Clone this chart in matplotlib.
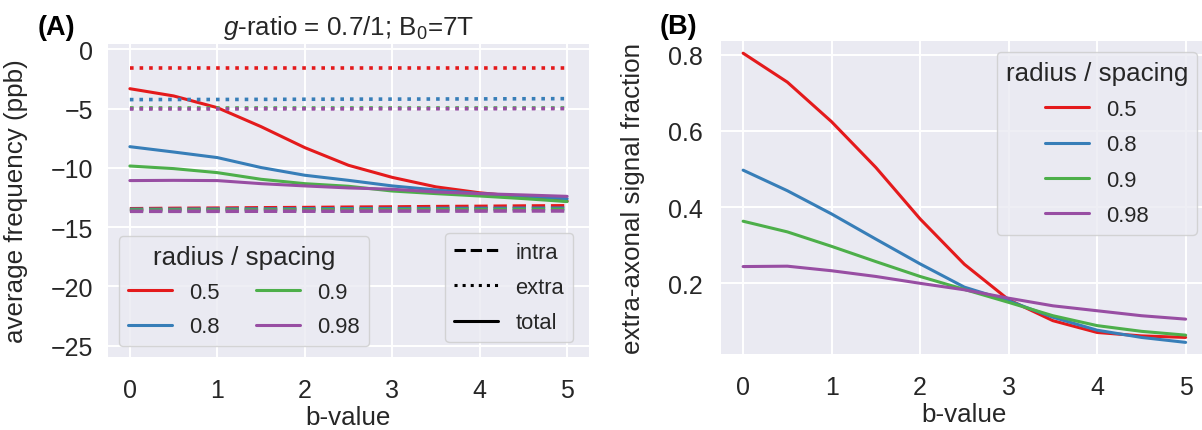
import matplotlib
matplotlib.use("Agg")
import matplotlib.pyplot as plt
from matplotlib.lines import Line2D

b_values = [0, 0.5, 1, 1.5, 2, 2.5, 3, 3.5, 4, 4.5, 5]
radius_spacing = ["0.5", "0.8", "0.9", "0.98"]
colors = ["#e41a1c", "#377eb8", "#4daf4a", "#984ea3"]

# average frequency (ppb), one row per radius/spacing
freq_intra = [
    [-13.45, -13.42, -13.40, -13.37, -13.35, -13.32, -13.30, -13.27, -13.25, -13.22, -13.20],
    [-13.50, -13.50, -13.48, -13.47, -13.46, -13.45, -13.44, -13.43, -13.42, -13.41, -13.40],
    [-13.56, -13.56, -13.55, -13.55, -13.54, -13.53, -13.53, -13.52, -13.52, -13.51, -13.50],
    [-13.66, -13.66, -13.66, -13.65, -13.65, -13.65, -13.64, -13.64, -13.64, -13.63, -13.63],
]
freq_extra = [
    [-1.60, -1.60, -1.60, -1.60, -1.60, -1.60, -1.60, -1.60, -1.60, -1.60, -1.60],
    [-4.24, -4.23, -4.23, -4.22, -4.21, -4.20, -4.20, -4.19, -4.18, -4.17, -4.16],
    [-4.96, -4.96, -4.96, -4.96, -4.96, -4.96, -4.96, -4.96, -4.96, -4.96, -4.96],
    [-5.03, -5.03, -5.03, -5.02, -5.02, -5.02, -5.01, -5.01, -5.01, -5.00, -5.00],
]
freq_total = [
    [-3.32, -3.93, -4.92, -6.52, -8.29, -9.78, -10.80, -11.60, -12.10, -12.45, -12.80],
    [-8.21, -8.66, -9.13, -9.97, -10.62, -11.05, -11.52, -11.86, -12.17, -12.37, -12.60],
    [-9.84, -10.06, -10.40, -10.96, -11.33, -11.55, -11.95, -12.17, -12.37, -12.59, -12.84],
    [-11.07, -11.05, -11.07, -11.33, -11.52, -11.69, -11.80, -12.03, -12.17, -12.28, -12.40],
]

# extra-axonal signal fraction
extra_fraction = [
    [0.804, 0.728, 0.624, 0.504, 0.369, 0.250, 0.157, 0.102, 0.071, 0.062, 0.058],
    [0.497, 0.443, 0.382, 0.316, 0.251, 0.190, 0.154, 0.111, 0.077, 0.058, 0.045],
    [0.363, 0.335, 0.297, 0.257, 0.218, 0.184, 0.150, 0.115, 0.089, 0.074, 0.064],
    [0.244, 0.245, 0.233, 0.218, 0.200, 0.183, 0.161, 0.141, 0.128, 0.115, 0.106],
]

plt.style.use("seaborn-v0_8-darkgrid")
plt.rcParams["font.family"] = ["Liberation Sans", "DejaVu Sans"]
plt.rcParams["mathtext.fontset"] = "custom"
plt.rcParams["mathtext.rm"] = "Liberation Sans"
plt.rcParams["mathtext.it"] = "Liberation Sans:italic"
plt.rcParams["text.color"] = ".15"
plt.rcParams["axes.labelcolor"] = ".15"
plt.rcParams["xtick.color"] = ".15"
plt.rcParams["ytick.color"] = ".15"
plt.rcParams["grid.linewidth"] = 1.4
plt.rcParams["legend.frameon"] = True
plt.rcParams["legend.framealpha"] = 0.8
plt.rcParams["legend.edgecolor"] = "0.8"
plt.rcParams["legend.facecolor"] = "#eaeaf2"

LABEL = 18.7
TICK = 18
LEG = 15.8

W, H = 1202, 431
fig = plt.figure(figsize=(W / 100, H / 100), dpi=100)
ax_a = fig.add_axes([108 / W, 1 - 358 / H, 481 / W, 313 / H])
ax_b = fig.add_axes([721 / W, 1 - 355 / H, 486.75 / W, 313 / H])

# (A) mean frequency shift per compartment
for i, c in enumerate(colors):
    ax_a.plot(b_values, freq_intra[i], color=c, ls="--", lw=2.6)
    ax_a.plot(b_values, freq_extra[i], color=c, ls=":", lw=2.6)
    ax_a.plot(b_values, freq_total[i], color=c, ls="-", lw=2.2)

ax_a.set_xlim(-0.25, 5.25)
ax_a.set_ylim(-25.95, 0.45)
ax_a.set_yticks([0, -5, -10, -15, -20, -25])
ax_a.set_xticks(range(6))
ax_a.tick_params(axis="x", length=0, pad=15, labelsize=TICK)
ax_a.tick_params(axis="y", length=0, pad=10.5, labelsize=TICK)
ax_a.set_xlabel("b-value", fontsize=LABEL, labelpad=2)
ax_a.set_ylabel("average frequency (ppb)", fontsize=LABEL)
ax_a.yaxis.set_label_coords(-0.166, 0.5)
ax_a.set_title(r"$g$-ratio = 0.7/1; B$_0$=7T", fontsize=LABEL, pad=7)

color_handles = [Line2D([], [], color=c, lw=2.2) for c in colors]
leg1 = ax_a.legend(color_handles, radius_spacing, title="radius / spacing",
                   loc="lower left", ncol=2, fontsize=LEG,
                   title_fontsize=LABEL, columnspacing=1.65, labelspacing=0.6)
ax_a.add_artist(leg1)

style_handles = [Line2D([], [], color="k", ls=s, lw=2.2) for s in ["--", ":", "-"]]
ax_a.legend(style_handles, ["intra", "extra", "total"], loc="lower right",
            bbox_to_anchor=(0.967, 0.048), borderaxespad=0, fontsize=LEG,
            labelspacing=0.65)

# (B) extra-axonal signal fraction
for i, c in enumerate(colors):
    ax_b.plot(b_values, extra_fraction[i], color=c, lw=2.2, label=radius_spacing[i])

ax_b.set_xlim(-0.25, 5.25)
ax_b.set_ylim(0.0145, 0.836)
ax_b.set_yticks([0.2, 0.4, 0.6, 0.8])
ax_b.set_xticks(range(6))
ax_b.tick_params(axis="x", length=0, pad=15, labelsize=TICK)
ax_b.tick_params(axis="y", length=0, pad=13, labelsize=TICK)
ax_b.set_xlabel("b-value", fontsize=LABEL, labelpad=2)
ax_b.set_ylabel("extra-axonal signal fraction", fontsize=LABEL)
ax_b.yaxis.set_label_coords(-0.156, 0.5)
ax_b.legend(title="radius / spacing", loc="upper right", fontsize=LEG,
            title_fontsize=LABEL, labelspacing=0.65)

fig.text(38 / W, 1 - 28 / H, "(A)", fontsize=19.5, fontweight="bold",
         color="k", va="center")
fig.text(660 / W, 1 - 27 / H, "(B)", fontsize=19.5, fontweight="bold",
         color="k", va="center")

fig.savefig("out.png", dpi=100)
